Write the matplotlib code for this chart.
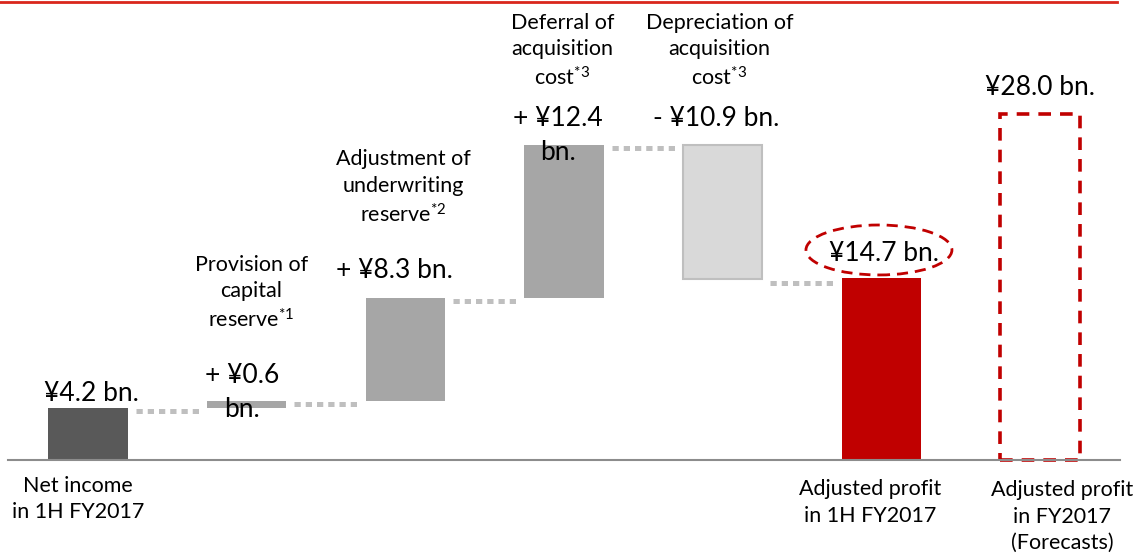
import numpy as np
import matplotlib
matplotlib.use("Agg")
import matplotlib.pyplot as plt
from matplotlib.patches import Ellipse
from matplotlib.lines import Line2D

plt.rcParams['font.family'] = ['Lato', 'DejaVu Sans']
plt.rcParams['mathtext.fontset'] = 'custom'
plt.rcParams['mathtext.rm'] = 'Lato'
plt.rcParams['mathtext.it'] = 'Lato:italic'
plt.rcParams['mathtext.bf'] = 'Lato:bold'

# ---------------- data ----------------
start_label = "Net income\nin 1H FY2017"
start_value = 4.2
step_labels = [
    "Provision of\ncapital\nreserve$^{\\mathregular{*1}}$",
    "Adjustment of\nunderwriting\nreserve$^{\\mathregular{*2}}$",
    "Deferral of\nacquisition\ncost$^{\\mathregular{*3}}$",
    "Depreciation of\nacquisition\ncost$^{\\mathregular{*3}}$",
]
step_values = [0.6, 8.3, 12.4, -10.9]
step_value_texts = ["+ ¥0.6\nbn.", "+ ¥8.3 bn.", "+ ¥12.4\nbn.", "- ¥10.9 bn."]
total_label = "Adjusted profit\nin 1H FY2017"
total_value = 14.7
forecast_label = "Adjusted profit\nin FY2017\n(Forecasts)"
forecast_value = 28.0

# ---------------- figure ----------------
W, H = 1139, 555
fig = plt.figure(figsize=(W / 100, H / 100), dpi=100)
ax = fig.add_axes([0, 0, 1, 1])
ax.set_xlim(-0.5546, 6.624)
ax.set_ylim(-7.68, 37.19)
ax.axis('off')

bw = 0.5
val_fs = 19
cat_fs = 15.5
txt_color = '#000000'

# start bar
ax.bar(0, start_value, width=bw, color='#595959', zorder=3)

# step bars
levels = start_value + np.cumsum(step_values)
prev = np.concatenate([[start_value], levels[:-1]])
for i, (v, p, l) in enumerate(zip(step_values, prev, levels)):
    x = i + 1
    bottom = min(p, l)
    if v >= 0:
        ax.bar(x, abs(v), bottom=bottom, width=bw, color='#a6a6a6', zorder=3)
    else:
        ax.bar(x, abs(v), bottom=bottom, width=bw, color='#d9d9d9',
               edgecolor='#bfbfbf', linewidth=1.5, zorder=3)

# total bar
ax.bar(5, total_value, width=bw, color='#c00000', zorder=3)
# forecast bar (dashed outline)
ax.bar(6, forecast_value, width=bw, facecolor='none', edgecolor='#c00000',
       linewidth=2.6, linestyle=(0, (3.5, 2.5)), zorder=3)

# connectors
all_levels = np.concatenate([[start_value], levels])
gap = 0.05
for i, lv in enumerate(all_levels):
    x0 = i + bw / 2 + gap
    x1 = i + 1 - bw / 2 - gap
    ax.plot([x0, x1], [lv - 0.25, lv - 0.25], color='#bfbfbf', linewidth=3.6,
            linestyle=(0, (1.25, 1.0)), solid_capstyle='butt',
            dash_capstyle='butt', zorder=2)

# baseline
ax.plot([-0.504, 6.504], [0, 0], color='#8c8c8c', linewidth=1.5, zorder=4)

# ellipse around total label
ax.add_patch(Ellipse((4.985, 16.98), 0.92, 4.04, facecolor='none',
                     edgecolor='#c00000', linewidth=2.0,
                     linestyle=(0, (4, 2.5)), zorder=5))

# value labels
ax.text(0.02, 5.34, "¥4.2 bn.", ha='center', va='center', fontsize=val_fs, color=txt_color, zorder=6)
val_pos = [(0.97, 5.46), (1.93, 15.36), (2.96, 26.23), (3.96, 27.65)]
for (x, y), t in zip(val_pos, step_value_texts):
    ax.text(x, y, t, ha='center', va='center', fontsize=val_fs, color=txt_color,
            linespacing=1.45, multialignment='center', zorder=6)
ax.text(5.02, 16.73, "¥14.7 bn.", ha='center', va='center', fontsize=val_fs, color=txt_color, zorder=6)
ax.text(6.0, 30.15, "¥28.0 bn.", ha='center', va='center', fontsize=val_fs, color=txt_color, zorder=6)

# step category labels (above)
cat_pos = [(1.03, 13.5), (1.985, 22.03), (2.99, 33.06), (3.98, 33.06)]
for (x, y), t in zip(cat_pos, step_labels):
    ax.text(x, y, t, ha='center', va='center', fontsize=cat_fs, color=txt_color,
            linespacing=1.38, multialignment='center', zorder=6)

# bottom labels
ax.text(-0.063, -3.15, start_label, ha='center', va='center', fontsize=cat_fs,
        color=txt_color, linespacing=1.42, multialignment='center')
ax.text(4.93, -3.44, total_label, ha='center', va='center', fontsize=cat_fs,
        color=txt_color, linespacing=1.42, multialignment='center')
ax.text(6.14, -4.57, forecast_label, ha='center', va='center', fontsize=cat_fs,
        color=txt_color, linespacing=1.38, multialignment='center')

# red rule at the top
fig.add_artist(Line2D([0, 1117 / W], [1 - 2 / H, 1 - 2 / H], color='#d9261c',
                      linewidth=2, transform=fig.transFigure))

fig.savefig('out.png', dpi=100)
